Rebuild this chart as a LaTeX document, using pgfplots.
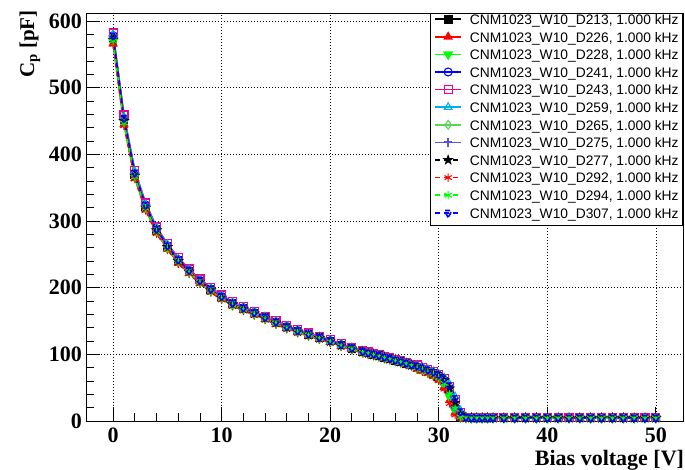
\documentclass[border=0pt]{standalone}
\usepackage{fontspec}
\setmainfont{Liberation Serif}
\newfontfamily\legfont{Liberation Sans}
\usepackage{pgfplots}
\usepackage{pgfplotstable}
\pgfplotsset{compat=1.18}

\definecolor{rgreen}{RGB}{0,255,0}
\definecolor{rlgreen}{RGB}{89,212,84}
\definecolor{rslate}{RGB}{89,84,217}

\pgfdeclareplotmark{fstar}{%
  \pgfpathmoveto{\pgfpointpolar{90}{1.25\pgfplotmarksize}}%
  \pgfpathlineto{\pgfpointpolar{126}{0.5\pgfplotmarksize}}%
  \pgfpathlineto{\pgfpointpolar{162}{1.25\pgfplotmarksize}}%
  \pgfpathlineto{\pgfpointpolar{198}{0.5\pgfplotmarksize}}%
  \pgfpathlineto{\pgfpointpolar{234}{1.25\pgfplotmarksize}}%
  \pgfpathlineto{\pgfpointpolar{270}{0.5\pgfplotmarksize}}%
  \pgfpathlineto{\pgfpointpolar{306}{1.25\pgfplotmarksize}}%
  \pgfpathlineto{\pgfpointpolar{342}{0.5\pgfplotmarksize}}%
  \pgfpathlineto{\pgfpointpolar{18}{1.25\pgfplotmarksize}}%
  \pgfpathlineto{\pgfpointpolar{54}{0.5\pgfplotmarksize}}%
  \pgfpathclose\pgfusepathqfillstroke}

\pgfplotstableread{
V a b c d e f g h i j k l
0 575 566 569 578 582 580 572 576 572 565 570 578
1 452 445 448 454 459 456 450 452 450 443 447 454
2 370 364 366 372 376 374 368 370 368 363 366 372
3 322 317 319 324 327 325 320 322 320 316 319 324
4 287 283 284 288 291 290 286 287 286 281 284 288
5 262 258 259 263 266 265 261 262 261 257 259 263
6 241 237 239 242 245 243 240 241 240 236 239 242
7 225 222 223 226 228 227 224 225 224 221 223 226
8 210 207 208 211 213 212 209 210 209 206 208 211
9 197 194 195 198 200 199 196 197 196 193 195 198
10 186 183 184 187 189 188 185 186 185 182 184 187
11 176 173 174 177 179 178 175 176 175 172.5 174 177
12 169 166.5 167.3 169.8 171.5 170.7 168.2 169 168.2 165.6 167.3 169.8
13 162 159.6 160.4 162.8 164.4 163.6 161.2 162 161.2 158.8 160.4 162.8
14 155 152.7 153.5 155.8 157.3 156.5 154.2 155 154.2 151.9 153.5 155.8
15 148 145.8 146.5 148.7 150.2 149.5 147.3 148 147.3 145 146.5 148.7
16 141 138.9 139.6 141.7 143.1 142.4 140.3 141 140.3 138.2 139.6 141.7
17 135 133 133.6 135.7 137 136.4 134.3 135 134.3 132.3 133.6 135.7
18 130 128 128.7 130.6 132 131.3 129.4 130 129.4 127.4 128.7 130.6
19 125 123.1 123.8 125.6 126.9 126.3 124.4 125 124.4 122.5 123.8 125.6
20 120 118.2 118.8 120.6 121.8 121.2 119.4 120 119.4 117.6 118.8 120.6
21 114 112.3 112.9 114.6 115.7 115.1 113.4 114 113.4 111.7 112.9 114.6
22 109 107.4 107.9 109.5 110.6 110.1 108.5 109 108.5 106.8 107.9 109.5
23 104 102.4 103 104.5 105.6 105 103.5 104 103.5 101.9 103 104.5
23.5 102 100.5 101 102.5 103.5 103 101.5 102 101.5 100 101 102.5
24 100 98.5 99 100.5 101.5 101 99.5 100 99.5 98 99 100.5
24.5 98 96.5 97 98.5 99.5 99 97.5 98 97.5 96 97 98.5
25 95.5 94.1 94.5 96 96.9 96.5 95 95.5 95 93.6 94.5 96
25.5 93.5 92.1 92.6 94 94.9 94.4 93 93.5 93 91.6 92.6 94
26 91 89.6 90.1 91.5 92.4 91.9 90.5 91 90.5 89.2 90.1 91.5
26.5 89 87.7 88.1 89.4 90.3 89.9 88.6 89 88.6 87.2 88.1 89.4
27 86.5 85.2 85.6 86.9 87.8 87.4 86.1 86.5 86.1 84.8 85.6 86.9
27.5 84 82.7 83.2 84.4 85.3 84.8 83.6 84 83.6 82.3 83.2 84.4
28 81 78.0 79.0 81.4 84.0 83.0 81.2 80.4 81.0 77.0 79.6 82.9
28.5 78 75.1 76.0 78.4 80.4 80.6 78.2 77.4 78.0 74.1 76.6 79.9
29 75 71.8 72.9 75.4 77.3 77.6 75.2 74.3 75.0 70.8 73.6 76.9
29.5 71.5 67.8 69.0 71.9 74.0 74.3 71.8 70.6 71.6 66.5 69.9 73.6
30 67 61.9 63.6 67.3 69.8 70.4 67.6 65.6 67.5 60.2 64.9 69.6
30.5 60 50.8 53.9 60.3 63.7 64.8 61.1 57.2 61.0 47.8 56.6 63.8
31 46 31.1 36.0 46.2 52.4 54.9 48.6 41.2 48.9 26.3 40.8 53.3
31.5 22 12.2 15.4 22.1 32.1 36.8 26.7 18.8 27.5 9.0 18.6 34.2
32 7 5.2 6.0 7.0 12.6 15.8 9.2 6.5 9.8 4.8 6.2 14.1
32.5 5.0 4.4 4.6 5.1 5.8 6.0 5.0 4.8 5.0 4.2 4.6 5.8
33 4.6 4.2 4.3 4.7 5.0 5.1 4.5 4.6 4.6 4.1 4.3 4.8
33.5 4.5 4.2 4.3 4.6 4.8 4.7 4.4 4.5 4.5 4.1 4.3 4.6
34 4.5 4.2 4.3 4.6 4.8 4.7 4.4 4.5 4.5 4.1 4.3 4.6
34.5 4.5 4.2 4.3 4.6 4.8 4.7 4.4 4.5 4.5 4.1 4.3 4.6
35 4.5 4.2 4.3 4.6 4.8 4.7 4.4 4.5 4.5 4.1 4.3 4.6
36 4.5 4.2 4.3 4.6 4.8 4.7 4.4 4.5 4.5 4.1 4.3 4.6
37 4.5 4.2 4.3 4.6 4.8 4.7 4.4 4.5 4.5 4.1 4.3 4.6
38 4.5 4.2 4.3 4.6 4.8 4.7 4.4 4.5 4.5 4.1 4.3 4.6
39 4.5 4.2 4.3 4.6 4.8 4.7 4.4 4.5 4.5 4.1 4.3 4.6
40 4.5 4.2 4.3 4.6 4.8 4.7 4.4 4.5 4.5 4.1 4.3 4.6
41 4.5 4.2 4.3 4.6 4.8 4.7 4.4 4.5 4.5 4.1 4.3 4.6
42 4.5 4.2 4.3 4.6 4.8 4.7 4.4 4.5 4.5 4.1 4.3 4.6
43 4.5 4.2 4.3 4.6 4.8 4.7 4.4 4.5 4.5 4.1 4.3 4.6
44 4.5 4.2 4.3 4.6 4.8 4.7 4.4 4.5 4.5 4.1 4.3 4.6
45 4.5 4.2 4.3 4.6 4.8 4.7 4.4 4.5 4.5 4.1 4.3 4.6
46 4.5 4.2 4.3 4.6 4.8 4.7 4.4 4.5 4.5 4.1 4.3 4.6
47 4.5 4.2 4.3 4.6 4.8 4.7 4.4 4.5 4.5 4.1 4.3 4.6
48 4.5 4.2 4.3 4.6 4.8 4.7 4.4 4.5 4.5 4.1 4.3 4.6
49 4.5 4.2 4.3 4.6 4.8 4.7 4.4 4.5 4.5 4.1 4.3 4.6
50 4.5 4.2 4.3 4.6 4.8 4.7 4.4 4.5 4.5 4.1 4.3 4.6
}\cvdata

\begin{document}
\begin{tikzpicture}
\useasboundingbox (0,0) rectangle (685bp,470bp);
\begin{axis}[
  at={(86bp,49bp)}, anchor=south west,
  scale only axis, width=597bp, height=408bp,
  xmin=-2.5, xmax=52.5, ymin=0, ymax=612,
  xtick={0,10,20,30,40,50}, ytick={0,100,200,300,400,500,600},
  minor x tick num=4, minor y tick num=4,
  tick align=inside, tick pos=left,
  major tick length=14bp, minor tick length=7.5bp,
  grid=major,
  major grid style={black, line width=0.7bp, dash pattern=on 1bp off 2bp},
  axis line style={black, line width=0.9bp},
  every tick/.style={black, line width=0.9bp},
  /pgf/number format/assume math mode=true,
  tick label style={font=\fontsize{22bp}{24bp}\selectfont\bfseries},
  yticklabel style={inner sep=0pt, anchor=east, xshift=-4bp},
  xticklabel style={inner sep=0pt, anchor=north, yshift=-6.5bp},
  xlabel={Bias voltage [V]},
  ylabel={C$_{\mathbf{p}}$ [pF]},
  xlabel style={font=\fontsize{22bp}{24bp}\selectfont\bfseries, at={(axis description cs:1.002,-0.110)}, anchor=base east, inner sep=0pt},
  ylabel style={font=\fontsize{21bp}{24bp}\selectfont\bfseries, at={(axis description cs:-0.094,1.007)}, anchor=east, rotate=0, inner sep=0pt},
  legend cell align=left,
  legend style={draw=black, line width=0.8bp, fill=white, at={(1,1)}, anchor=north east,
    font=\legfont\fontsize{13.8bp}{16bp}\selectfont,
    inner xsep=4bp, inner ysep=0.5bp, row sep=0pt, column sep=8bp,
    nodes={inner sep=0pt, text height=10.6bp, text depth=7bp}},
  legend image code/.code={%
    \draw[mark repeat=2, mark phase=2] plot coordinates {(0bp,3.5bp) (13bp,3.5bp) (26bp,3.5bp)};},
  every axis plot/.append style={line width=1.6bp, mark size=3.8bp, mark options={solid, line width=1.1bp}},
]
\addplot[black, mark=square*] table[x=V,y=a]{\cvdata};
\addlegendentry{CNM1023\_W10\_D213, 1.000 kHz}
\addplot[red, mark=triangle*, mark size=4.4bp] table[x=V,y=b]{\cvdata};
\addlegendentry{CNM1023\_W10\_D226, 1.000 kHz}
\addplot[rgreen, mark=triangle*, mark size=4.4bp, mark options={rotate=180}] table[x=V,y=c]{\cvdata};
\addlegendentry{CNM1023\_W10\_D228, 1.000 kHz}
\addplot[blue, mark=o, mark size=4bp] table[x=V,y=d]{\cvdata};
\addlegendentry{CNM1023\_W10\_D241, 1.000 kHz}
\addplot[magenta, mark=square, mark size=4bp] table[x=V,y=e]{\cvdata};
\addlegendentry{CNM1023\_W10\_D243, 1.000 kHz}
\addplot[cyan, mark=triangle, mark size=4.4bp] table[x=V,y=f]{\cvdata};
\addlegendentry{CNM1023\_W10\_D259, 1.000 kHz}
\addplot[rlgreen, mark=diamond, mark size=4.4bp] table[x=V,y=g]{\cvdata};
\addlegendentry{CNM1023\_W10\_D265, 1.000 kHz}
\addplot[rslate, mark=+, mark size=4.2bp, mark options={line width=1.8bp}] table[x=V,y=h]{\cvdata};
\addlegendentry{CNM1023\_W10\_D275, 1.000 kHz}
\addplot[black, dash pattern=on 5bp off 4bp, mark=fstar, mark size=3.4bp] table[x=V,y=i]{\cvdata};
\addlegendentry{CNM1023\_W10\_D277, 1.000 kHz}
\addplot[red, dash pattern=on 5bp off 4bp, mark=asterisk, mark size=4.2bp] table[x=V,y=j]{\cvdata};
\addlegendentry{CNM1023\_W10\_D292, 1.000 kHz}
\addplot[rgreen, dash pattern=on 5bp off 4bp, mark=asterisk, mark size=4.2bp] table[x=V,y=k]{\cvdata};
\addlegendentry{CNM1023\_W10\_D294, 1.000 kHz}
\addplot[blue, dash pattern=on 5bp off 4bp, mark=triangle, mark size=4.6bp, mark options={rotate=180}] table[x=V,y=l]{\cvdata};
\addlegendentry{CNM1023\_W10\_D307, 1.000 kHz}
\end{axis}
\end{tikzpicture}
\end{document}
